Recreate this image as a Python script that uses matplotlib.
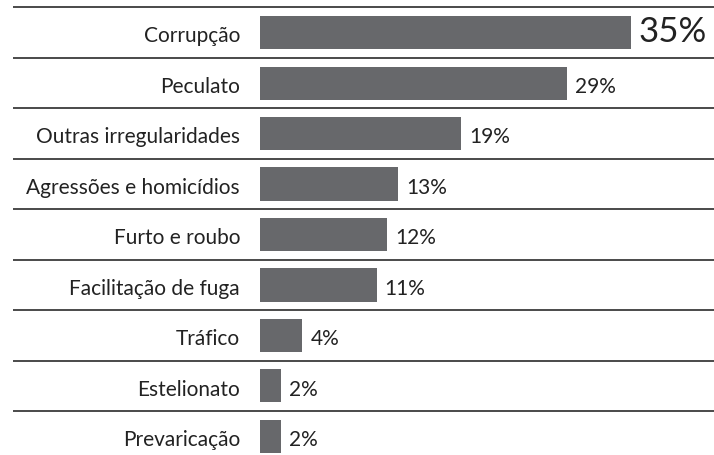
import matplotlib.pyplot as plt

categorias = ['Corrupção', 'Peculato', 'Outras irregularidades', 'Agressões e homicídios',
              'Furto e roubo', 'Facilitação de fuga', 'Tráfico', 'Estelionato', 'Prevaricação']
valores = [35, 29, 19, 13, 12, 11, 4, 2, 2]
rotulos = ['35%', '29%', '19%', '13%', '12%', '11%', '4%', '2%', '2%']

cor_barra = '#67686b'
cor_linha = '#4a4a4a'
fonte = 'Lato'

W, H = 714, 455
fig = plt.figure(figsize=(W / 100, H / 100), dpi=100)

# eixo comeca onde as barras comecam (x=260 px)
x0 = 260
escala = 10.6  # px por ponto percentual
linha = 50.45  # px por linha
centro0 = 32.7
ax = fig.add_axes([x0 / W, 0, (W - x0) / W, 1])
ax.set_xlim(0, (W - x0) / escala)
ax.set_ylim((H - centro0) / linha, -centro0 / linha)
ax.axis('off')

pos = list(range(len(categorias)))
ax.barh(pos, valores, height=0.66, color=cor_barra)

# linhas separadoras
x_esq = -(x0 - 13) / escala
for i in pos:
    ax.plot([x_esq, (W - x0) / escala], [i - 0.5, i - 0.5], color=cor_linha,
            lw=1.4, clip_on=False, solid_capstyle='butt')

base = 9.8 / linha  # linha de base do texto abaixo do centro da barra
for i, (cat, v, r) in enumerate(zip(categorias, valores, rotulos)):
    ax.text(-20 / escala, i + base, cat, ha='right', va='baseline', fontsize=15,
            family=fonte, color='#222222')
    tam = 25 if i == 0 else 15
    ax.text(v + 8 / escala, i + base, r, ha='left', va='baseline', fontsize=tam,
            family=fonte, color='#222222')

fig.savefig('out.png', dpi=100)
